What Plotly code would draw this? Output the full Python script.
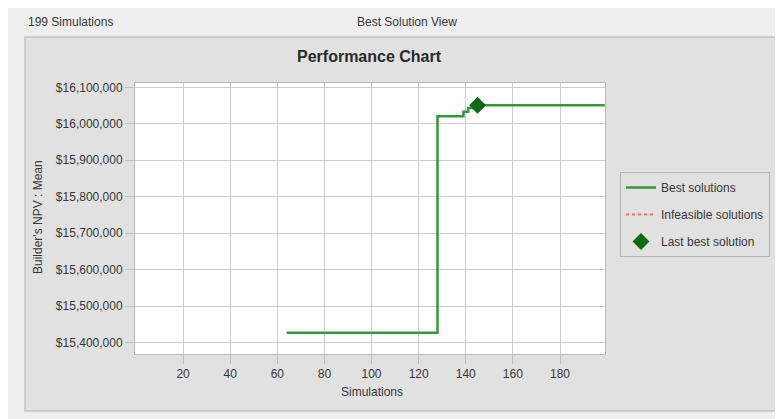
import plotly.graph_objects as go

# ---- data ----
best_sim = [64, 128, 139, 141, 145, 199]
best_npv = [15427000, 16021000, 16033000, 16043000, 16051000, 16051000]
last_best_sim = [145]
last_best_npv = [16051000]
x_ticks = [20, 40, 60, 80, 100, 120, 140, 160, 180]
y_ticks = [15400000, 15500000, 15600000, 15700000, 15800000, 15900000, 16000000, 16100000]
y_ticklabels = ["$15,400,000", "$15,500,000", "$15,600,000", "$15,700,000",
                "$15,800,000", "$15,900,000", "$16,000,000", "$16,100,000"]

SW, SH = 783, 419          # screen window
OFF = 8                    # page body margin
W, H = SW - OFF, SH - OFF  # figure size
L, R, T, B = 135, 605, 83, 354  # plot area in screen pixels

def px(x):
    return (x - L) / (R - L)

def py(y):
    return (B - y) / (B - T)

FONT = "Liberation Sans, Arial, sans-serif"
TXT = "#383838"

fig = go.Figure()
fig.add_trace(go.Scatter(
    x=best_sim, y=best_npv, mode="lines", line=dict(color="#35963a", width=2.5, shape="hv"),
    name="Best solutions", legendgroup="a"))
fig.add_trace(go.Scatter(
    x=[None], y=[None], mode="lines", line=dict(color="#ff6b6b", width=2, dash="dot"),
    name="Infeasible solutions", legendgroup="b"))
fig.add_trace(go.Scatter(
    x=last_best_sim, y=last_best_npv, mode="markers",
    marker=dict(symbol="diamond", size=13, color="#0b6b12"),
    name="Last best solution", legendgroup="c"))

shapes = [
    dict(type="rect", xref="paper", yref="paper", x0=px(25), x1=px(781), y0=py(37), y1=py(411),
         fillcolor="#e1e1e1", line=dict(color="#c4c4c4", width=1.5), layer="below"),
    dict(type="rect", xref="paper", yref="paper", x0=0, x1=1, y0=0, y1=1,
         fillcolor="white", line=dict(width=0), layer="below"),
]

annotations = [
    dict(text="199 Simulations", xref="paper", yref="paper", x=px(26), y=py(22),
         xanchor="left", yanchor="middle", showarrow=False, font=dict(size=12, color=TXT, family=FONT)),
    dict(text="Best Solution View", xref="paper", yref="paper", x=px(407), y=py(22),
         xanchor="center", yanchor="middle", showarrow=False, font=dict(size=12, color=TXT, family=FONT)),
    dict(text="<b>Performance Chart</b>", xref="paper", yref="paper", x=px(369), y=py(56),
         xanchor="center", yanchor="middle", showarrow=False, font=dict(size=16, color="#2a2a2a", family=FONT)),
    dict(text="Builder's NPV : Mean", xref="paper", yref="paper", x=px(38), y=py(217),
         xanchor="center", yanchor="middle", textangle=-90, showarrow=False,
         font=dict(size=12, color=TXT, family=FONT)),
    dict(text="Simulations", xref="paper", yref="paper", x=px(372), y=py(392),
         xanchor="center", yanchor="middle", showarrow=False, font=dict(size=12, color=TXT, family=FONT)),
]

fig.update_layout(
    width=W, height=H,
    margin=dict(l=L - OFF, r=SW - R, t=T - OFF, b=SH - B, pad=0),
    paper_bgcolor="#eeeeee", plot_bgcolor="white",
    font=dict(family=FONT, size=12, color=TXT),
    shapes=shapes, annotations=annotations,
    showlegend=True,
    legend=dict(x=px(620), y=py(172), xanchor="left", yanchor="top",
                bgcolor="#e1e1e1", bordercolor="#b4b4b4", borderwidth=1,
                font=dict(size=12, color=TXT, family=FONT),
                traceorder="grouped", tracegroupgap=8, itemwidth=30),
)
fig.update_xaxes(range=[-0.4, 199.1], tickvals=x_ticks, ticks="outside", ticklen=9,
                 tickcolor="#c0c0c0", gridcolor="#cccccc", gridwidth=1.2,
                 showline=True, linecolor="#b8b8b8", mirror=True, zeroline=False,
                 tickfont=dict(size=12, color=TXT))
fig.update_yaxes(range=[15369000, 16111800], tickvals=y_ticks, ticktext=y_ticklabels,
                 ticks="outside", ticklen=9, tickcolor="#c0c0c0", gridcolor="#cccccc", gridwidth=1.2,
                 showline=True, linecolor="#b8b8b8", mirror=True, zeroline=False,
                 tickfont=dict(size=12, color=TXT))

fig.write_html("out.html")
